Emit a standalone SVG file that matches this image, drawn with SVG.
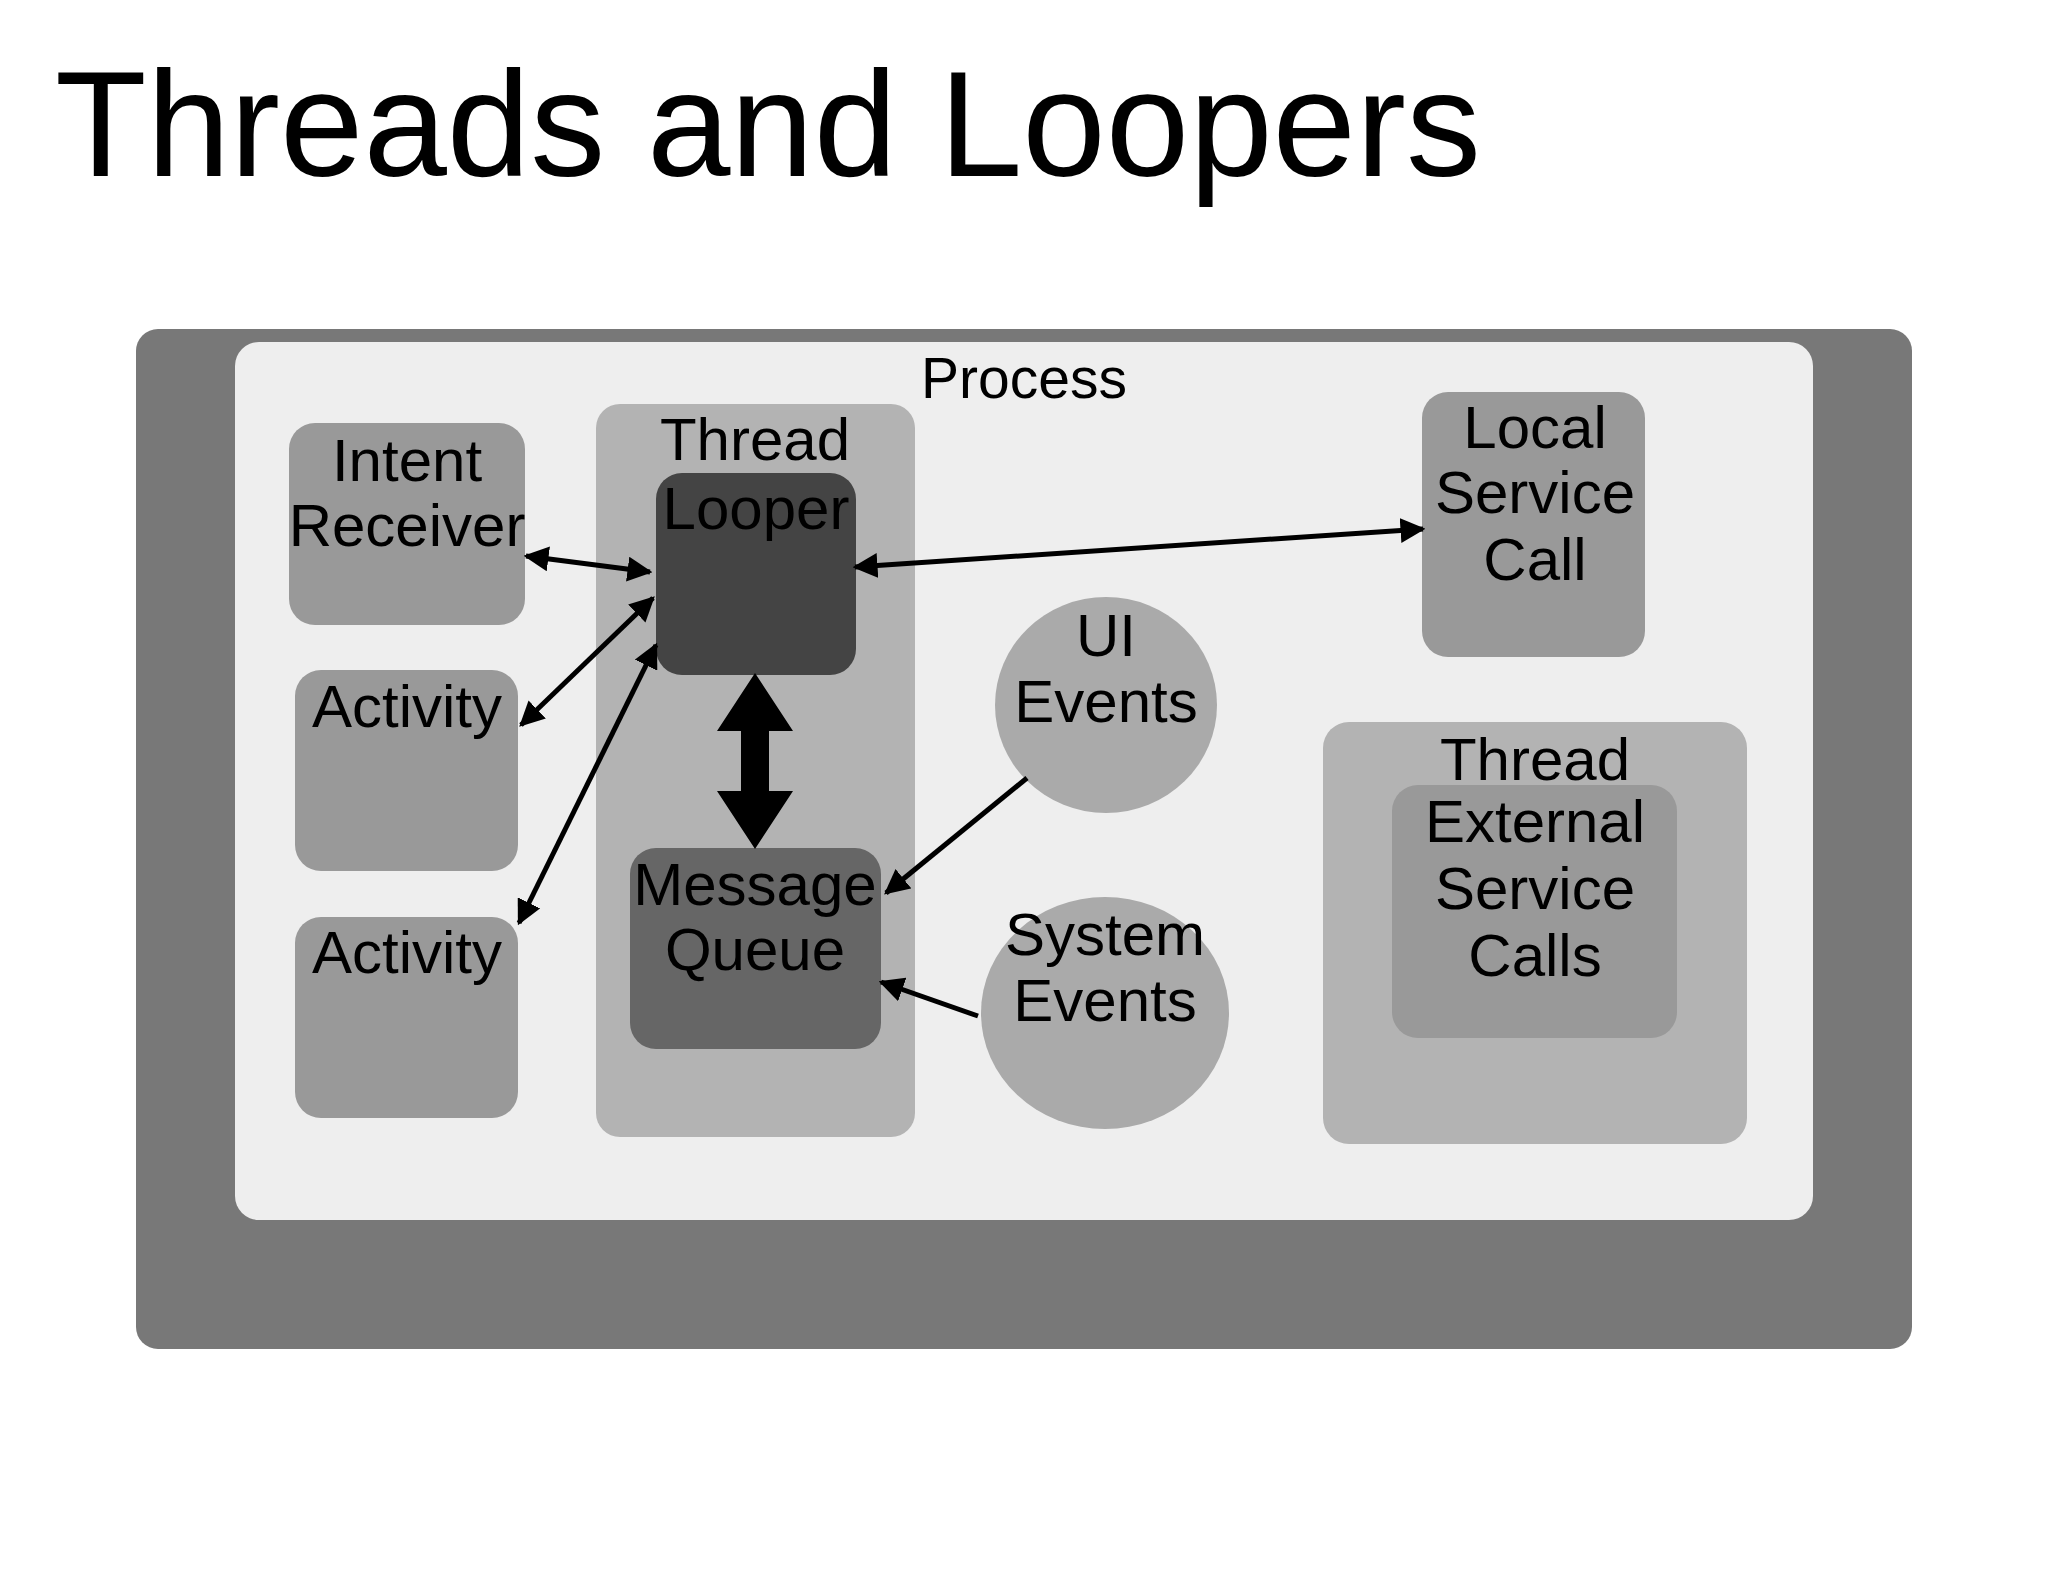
<svg xmlns="http://www.w3.org/2000/svg" width="2048" height="1582" viewBox="0 0 2048 1582">
<style>
text{font-family:"Liberation Sans",Arial,sans-serif;fill:#000;text-anchor:middle}
.t{font-size:60px}
.c{stroke:#000;stroke-width:5;fill:none}
</style>
<defs>
<marker id="ah" viewBox="0 0 10 10" refX="9" refY="5" markerWidth="5" markerHeight="5" orient="auto-start-reverse"><path d="M0,0L10,5L0,10z" fill="#000"/></marker>
</defs>
<rect width="2048" height="1582" fill="#fff"/>
<text x="55" y="176" style="font-size:150px;text-anchor:start">Threads and Loopers</text>
<g id="outer"><rect x="136" y="329" width="1776" height="1020" rx="22" fill="#787878"/></g>
<g id="process"><rect x="235" y="342" width="1578" height="878" rx="24" fill="#eeeeee"/><text x="1024" y="398" style="font-size:57px">Process</text></g>
<g id="intent"><rect x="289" y="423" width="236" height="202" rx="26" fill="#999"/><text class="t" x="407" y="481">Intent</text><text class="t" x="407" y="546">Receiver</text></g>
<g id="activity1"><rect x="295" y="670" width="223" height="201" rx="26" fill="#999"/><text class="t" x="407" y="727">Activity</text></g>
<g id="activity2"><rect x="295" y="917" width="223" height="201" rx="26" fill="#999"/><text class="t" x="407" y="973">Activity</text></g>
<g id="thread1"><rect x="596" y="404" width="319" height="733" rx="24" fill="#b3b3b3"/><text class="t" x="755" y="460">Thread</text></g>
<g id="looper"><rect x="656" y="473" width="200" height="202" rx="26" fill="#444"/><text class="t" x="756" y="529">Looper</text></g>
<g id="mq"><rect x="630" y="848" width="251" height="201" rx="26" fill="#666"/><text class="t" x="755" y="905">Message</text><text class="t" x="755" y="970">Queue</text></g>
<g id="ui"><ellipse cx="1106" cy="705" rx="111" ry="108" fill="#aaa"/><text class="t" x="1106" y="656">UI</text><text class="t" x="1106" y="722">Events</text></g>
<g id="sys"><ellipse cx="1105" cy="1013" rx="124" ry="116" fill="#aaa"/><text class="t" x="1105" y="955">System</text><text class="t" x="1105" y="1021">Events</text></g>
<g id="local"><rect x="1422" y="392" width="223" height="265" rx="26" fill="#999"/><text class="t" x="1535" y="448">Local</text><text class="t" x="1535" y="513">Service</text><text class="t" x="1535" y="580">Call</text></g>
<g id="thread2"><rect x="1323" y="722" width="424" height="422" rx="26" fill="#b3b3b3"/><text class="t" x="1535" y="780">Thread</text></g>
<g id="external"><rect x="1392" y="785" width="285" height="253" rx="26" fill="#999"/><text class="t" x="1535" y="842">External</text><text class="t" x="1535" y="909">Service</text><text class="t" x="1535" y="976">Calls</text></g>
<g id="connectors">
<path d="M755,673 L793,731 L769,731 L769,791 L793,791 L755,849 L717,791 L741,791 L741,731 L717,731 Z" fill="#000"/>
<line class="c" x1="526" y1="556" x2="650" y2="572" marker-start="url(#ah)" marker-end="url(#ah)"/>
<line class="c" x1="521" y1="725" x2="653" y2="598" marker-start="url(#ah)" marker-end="url(#ah)"/>
<line class="c" x1="519" y1="923" x2="656" y2="645" marker-start="url(#ah)" marker-end="url(#ah)"/>
<line class="c" x1="855" y1="567" x2="1423" y2="529" marker-start="url(#ah)" marker-end="url(#ah)"/>
<line class="c" x1="1027" y1="778" x2="886" y2="893" marker-end="url(#ah)"/>
<line class="c" x1="978" y1="1016" x2="881" y2="982" marker-end="url(#ah)"/>
</g>
</svg>
